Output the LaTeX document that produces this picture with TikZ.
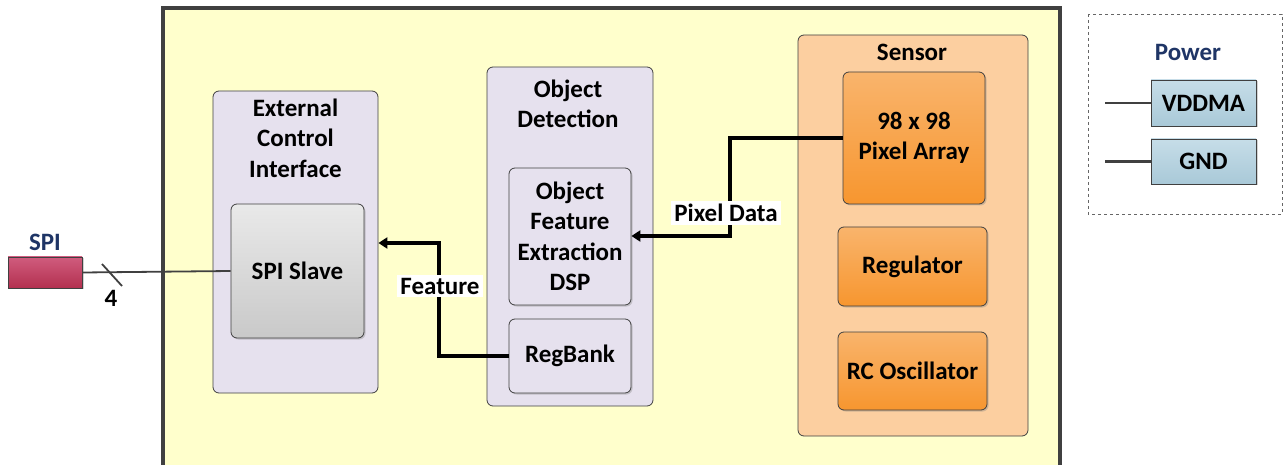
\documentclass[tikz,border=0pt]{standalone}
\usepackage{fontspec}
\setmainfont{Carlito}
\usetikzlibrary{arrows.meta,shadows}
\definecolor{mainfill}{HTML}{FFFFCC}
\definecolor{lav}{HTML}{E6E1EE}
\definecolor{sensfill}{HTML}{FCCFA0}
\definecolor{orTop}{HTML}{F9B46C}
\definecolor{orBot}{HTML}{F7962F}
\definecolor{grTop}{HTML}{E9E9E9}
\definecolor{grBot}{HTML}{C9C9C9}
\definecolor{blTop}{HTML}{C6DDE8}
\definecolor{blBot}{HTML}{A9C9D8}
\definecolor{spiTop}{HTML}{D05C7E}
\definecolor{spiBot}{HTML}{B3304F}
\definecolor{navy}{HTML}{1F3566}
\definecolor{edge}{HTML}{404040}
\tikzset{
  txt/.style={font=\fontsize{25}{30.5}\selectfont\bfseries, align=center, inner sep=0pt},
  ttl/.style={txt, text=navy},
  cont/.style={draw=edge, line width=0.8pt, rounded corners=6pt, fill=lav},
  inner/.style={draw=edge, line width=0.8pt, rounded corners=6pt, drop shadow={shadow xshift=1.5pt, shadow yshift=-1.5pt, opacity=0.35}},
  grbox/.style={inner, top color=grTop, bottom color=grBot},
  lvbox/.style={inner, fill=lav},
  orbox/.style={inner, top color=orTop, bottom color=orBot},
  blbox/.style={draw=edge, line width=0.8pt, top color=blTop, bottom color=blBot, drop shadow={shadow xshift=1.5pt, shadow yshift=-1.5pt, opacity=0.35}},
  flow/.style={line width=3.5pt, -{Triangle[length=9pt,width=11pt]}},
  wire/.style={draw=edge, line width=2.2pt},
  lbl/.style={txt, fill=white, inner sep=3pt}
}
\begin{document}
\begin{tikzpicture}[x=1pt,y=-1pt]
\useasboundingbox (0,0) rectangle (1283,465);
% main box
\draw[draw=edge, line width=4pt, fill=mainfill] (163,8) rectangle (1060,480);
% SPI
\node[ttl] (spit) at (45,242) {SPI};
\node[draw=edge, line width=0.8pt, top color=spiTop, bottom color=spiBot, minimum width=74pt, minimum height=31pt, inner sep=0pt, drop shadow={shadow xshift=1.5pt, shadow yshift=-1.5pt, opacity=0.35}] (spi) at (45,272.5) {};
% ECI
\node[cont, minimum width=165pt, minimum height=302pt] (eci) at (295.5,242) {};
\node[txt] (ecit) at (295.5,138) {External\\Control\\Interface};
\node[grbox, minimum width=133pt, minimum height=134pt] (spis) at (297.5,271) {};
\node[txt] (spist) at (spis) {SPI Slave};
% Object detection
\node[cont, minimum width=166pt, minimum height=339pt] (od) at (570,236.5) {};
\node[txt] (odt) at (568,104) {Object\\Detection};
\node[lvbox, minimum width=122pt, minimum height=137pt] (dsp) at (570,236.5) {};
\node[txt] (dspt) at (dsp) {Object\\Feature\\Extraction\\DSP};
\node[lvbox, minimum width=122pt, minimum height=74pt] (reg) at (570,356) {};
\node[txt] (regt) at (reg) {RegBank};
% Sensor
\node[cont, fill=sensfill, minimum width=230pt, minimum height=401pt] (sen) at (913,235.5) {};
\node[txt] (sent) at (912,52) {Sensor};
\node[orbox, minimum width=142pt, minimum height=132pt] (pix) at (914,138) {};
\node[txt] (pixt) at (pix) {98 x 98\\Pixel Array};
\node[orbox, minimum width=149pt, minimum height=79pt] (regl) at (912.5,266.5) {};
\node[txt] (reglt) at (regl) {Regulator};
\node[orbox, minimum width=149pt, minimum height=78pt] (rco) at (912.5,371) {};
\node[txt] (rcot) at (rco) {RC Oscillator};
% Power
\draw[draw=gray!80!black, dashed, line width=0.8pt] (1088,14) rectangle (1282,214);
\node[ttl] (pwt) at (1188,52) {Power};
\node[blbox, minimum width=105pt, minimum height=46pt] (vdd) at (1203.5,103) {};
\node[txt] (vddt) at (vdd) {VDDMA};
\node[blbox, minimum width=105pt, minimum height=45pt] (gnd) at (1203.5,161.5) {};
\node[txt] (gndt) at (gnd) {GND};
\coordinate (pv) at (1105,103);
\coordinate (pg) at (1105,161.5);
\draw[wire] (pv) -- (vdd.west);
\draw[wire] (pg) -- (gnd.west);
% SPI wire
\draw[wire, line width=1.8pt] (spi.east) -- (spis.west);
\coordinate (s1) at (102,264);
\coordinate (s2) at (122,286);
\draw[wire, line width=1.8pt] (s1) -- (s2);
\node[txt] (four) at (111,298) {4};
% Pixel data
\coordinate (pd1) at (730,138);
\coordinate (pd2) at (730,236);
\draw[flow] (pix.west |- pd1) -- (pd1) -- (pd2) -- (dsp.east |- pd2);
\node[lbl] (pdl) at (726,213) {Pixel Data};
% Feature
\coordinate (f1) at (439,356);
\coordinate (f2) at (439,243);
\draw[flow] (reg.west) -- (f1) -- (f2) -- (eci.east |- f2);
\node[lbl] (fl) at (440,286) {Feature};
\end{tikzpicture}
\end{document}
